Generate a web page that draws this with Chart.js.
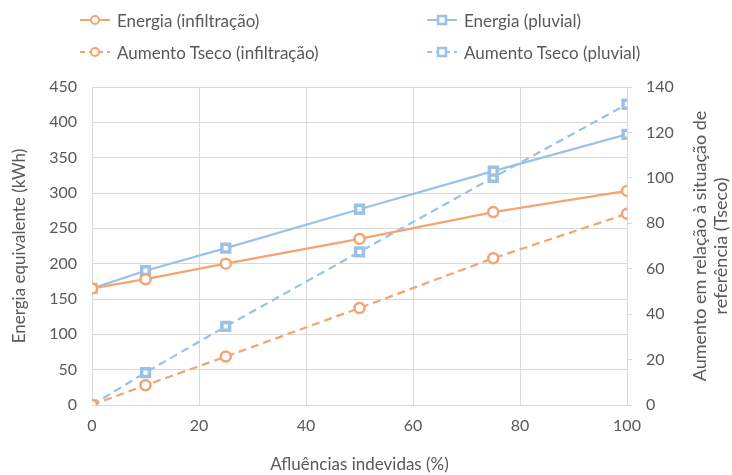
<!DOCTYPE html>
<html>
<head>
<meta charset="utf-8">
<script src="https://cdn.jsdelivr.net/npm/chart.js@4.4.0/dist/chart.umd.min.js"></script>
<style>
    body { margin: 0; background: #fff; }
    #wrap { position: relative; width: 732px; height: 475px; }
    #legend { position: absolute; left: 0; top: 0; width: 732px; height: 70px;
              font-family: Lato, sans-serif; font-size: 17px; color: #595959; }
    .item { position: absolute; display: flex; align-items: center; white-space: nowrap; height: 22px; }
    .item svg { margin-right: 7px; }
</style>
</head>
<body>
<div id="wrap">
    <canvas id="chart" width="732" height="475"></canvas>
    <div id="legend"></div>
</div>
<script>
// Data
const afluencias = [0, 10, 25, 50, 75, 100];
const energiaInfiltracao = [165, 178, 200, 235, 273, 303];
const energiaPluvial = [165, 190, 222, 277, 331, 383];
const tsecoInfiltracao = [0, 8.7, 21.3, 42.7, 64.6, 84.2];
const tsecoPluvial = [0, 14.3, 34.6, 67.4, 100.2, 132.4];

const labels = ['Energia (infiltração)', 'Energia (pluvial)',
                'Aumento Tseco (infiltração)', 'Aumento Tseco (pluvial)'];

const orange = '#F4A470';
const blue = '#9BC2E6';
const grid = '#d9d9d9';
const textColor = '#595959';
const fontFamily = 'Lato, sans-serif';

function toPoints(values) {
    return values.map((v, i) => ({ x: afluencias[i], y: v }));
}

function makeDataset(label, values, color, style, dashed, axis) {
    return {
        label: label,
        data: toPoints(values),
        borderColor: color,
        backgroundColor: '#ffffff',
        borderWidth: 2.25,
        borderDash: dashed ? [8, 5] : [],
        pointStyle: style,
        pointRadius: style === 'rect' ? 5.5 : 5,
        pointBorderWidth: style === 'rect' ? 3.5 : 2.5,
        pointBackgroundColor: '#ffffff',
        pointBorderColor: color,
        yAxisID: axis,
        tension: 0
    };
}

const datasets = [
    makeDataset(labels[0], energiaInfiltracao, orange, 'circle', false, 'y'),
    makeDataset(labels[1], energiaPluvial, blue, 'rect', false, 'y'),
    makeDataset(labels[2], tsecoInfiltracao, orange, 'circle', true, 'y1'),
    makeDataset(labels[3], tsecoPluvial, blue, 'rect', true, 'y1')
];

// Right axis title reads bottom-to-top, so draw it ourselves
const rightTitle = {
    id: 'rightTitle',
    afterDraw(chart) {
        const ctx = chart.ctx;
        const area = chart.chartArea;
        const cy = (area.top + area.bottom) / 2;
        ctx.save();
        ctx.fillStyle = textColor;
        ctx.font = '18px ' + fontFamily;
        ctx.textAlign = 'center';
        ctx.textBaseline = 'middle';
        ctx.translate(700, cy);
        ctx.rotate(-Math.PI / 2);
        ctx.fillText('Aumento em relação à situação de', 0, 0);
        ctx.fillText('referência (Tseco)', 0, 21);
        ctx.restore();
    }
};

new Chart(document.getElementById('chart'), {
    type: 'line',
    data: { datasets: datasets },
    options: {
        responsive: false,
        animation: false,
        layout: { padding: { top: 87, left: 0, right: 0, bottom: 0 } },
        plugins: {
            legend: { display: false },
            tooltip: { enabled: false }
        },
        scales: {
            x: {
                type: 'linear',
                min: 0,
                max: 100,
                ticks: { stepSize: 20, color: textColor, padding: 11,
                         font: { family: fontFamily, size: 16 } },
                grid: { color: grid, drawTicks: false },
                border: { color: grid },
                title: { display: true, text: 'Afluências indevidas (%)', color: textColor,
                         font: { family: fontFamily, size: 17 }, padding: { top: 14, bottom: 0 } },
                afterFit(scale) { scale.height = 70; }
            },
            y: {
                position: 'left',
                min: 0,
                max: 450,
                ticks: { stepSize: 50, color: textColor, padding: 15,
                         font: { family: fontFamily, size: 16 } },
                grid: { color: grid, drawTicks: false },
                border: { color: grid },
                title: { display: true, text: 'Energia equivalente (kWh)', color: textColor,
                         font: { family: fontFamily, size: 17 }, padding: { top: 9, bottom: 0 } },
                afterFit(scale) { scale.width = 92; }
            },
            y1: {
                position: 'right',
                min: 0,
                max: 140,
                ticks: { stepSize: 20, color: textColor, padding: 14,
                         font: { family: fontFamily, size: 16 } },
                grid: { drawOnChartArea: false, color: grid, tickLength: 5 },
                border: { color: grid },
                afterFit(scale) { scale.width = 105; }
            }
        }
    },
    plugins: [rightTitle]
});

// Legend in two columns, like the reference
const legendPos = [[80, 20], [427, 20], [80, 52], [427, 52]];
const legend = document.getElementById('legend');
datasets.forEach((ds, i) => {
    const item = document.createElement('div');
    item.className = 'item';
    item.style.left = legendPos[i][0] + 'px';
    item.style.top = (legendPos[i][1] - 11) + 'px';
    const dash = ds.borderDash.length ? 'stroke-dasharray="5 4"' : '';
    const marker = ds.pointStyle === 'rect'
        ? '<rect x="11" y="6" width="8" height="8" fill="#fff" stroke="' + ds.borderColor + '" stroke-width="2.5"/>'
        : '<circle cx="15" cy="10" r="4" fill="#fff" stroke="' + ds.borderColor + '" stroke-width="2"/>';
    item.innerHTML = '<svg width="30" height="20"><line x1="0" y1="10" x2="30" y2="10" stroke="' +
        ds.borderColor + '" stroke-width="2" ' + dash + '/>' + marker + '</svg><span>' + ds.label + '</span>';
    legend.appendChild(item);
});
</script>
</body>
</html>
